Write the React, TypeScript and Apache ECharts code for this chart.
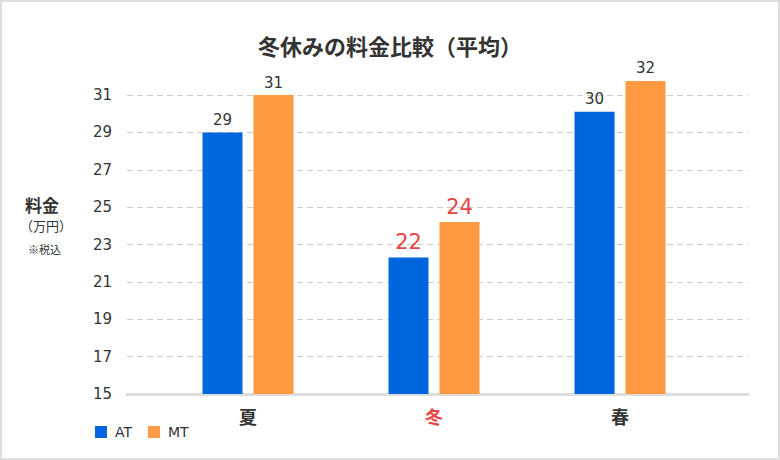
import React, { useEffect, useRef } from "react";
import * as echarts from "echarts";

const title = "冬休みの料金比較（平均）";
const categories = ["夏", "冬", "春"];
const seriesNames = ["AT", "MT"];
const atValues = [29.0, 22.3, 30.1];
const mtValues = [31.0, 24.2, 31.75];
const yMin = 15;
const yMax = 31;
const yInterval = 2;
const barAxisMax = 33;
const highlightIndex = 1;

const FONT = '"DejaVu Sans", "Noto Sans CJK JP", sans-serif';
const JFONT = '"Noto Sans CJK JP", sans-serif';
const BLUE = "#0066dd";
const ORANGE = "#ff9a42";
const RED = "#e84545";

const GRID_TOP = 95;
const GRID_BOTTOM = 66;
const PX_PER_UNIT = (460 - GRID_TOP - GRID_BOTTOM) / (yMax - yMin);

function makeData(vals: number[]) {
  return vals.map((v, i) =>
    i === highlightIndex
      ? { value: v, label: { color: RED, fontSize: 21 } }
      : { value: v }
  );
}

export default function App() {
  const ref = useRef<HTMLDivElement>(null);
  useEffect(() => {
    document.body.style.margin = "0";
    const chart = echarts.init(ref.current!, null, { renderer: "svg" });
    const labelCommon = {
      show: true,
      position: "top" as const,
      distance: 5,
      color: "#333",
      fontSize: 15,
      fontFamily: FONT,
      formatter: (p: any) => String(Math.round(p.value)),
    };
    chart.setOption({
      animation: false,
      backgroundColor: "#fff",
      title: {
        text: title,
        left: "center",
        top: 29,
        textStyle: { fontSize: 22, fontWeight: "bold", color: "#333", fontFamily: JFONT },
      },
      legend: {
        left: 90,
        top: 420,
        icon: "rect",
        itemWidth: 12,
        itemHeight: 12,
        itemGap: 16,
        textStyle: { fontSize: 14, color: "#333", fontFamily: FONT, padding: [0, 0, 0, 3] },
        data: seriesNames,
      },
      grid: [
        { left: 127, right: 32, top: GRID_TOP, bottom: GRID_BOTTOM },
        {
          left: 155,
          right: 67,
          top: GRID_TOP - (barAxisMax - yMax) * PX_PER_UNIT,
          bottom: GRID_BOTTOM,
        },
      ],
      xAxis: [
        {
          type: "category",
          gridIndex: 0,
          data: [""],
          axisLine: { show: true, lineStyle: { color: "#dddddd", width: 3 } },
          axisTick: { show: false },
          axisLabel: { show: false },
        },
        {
          type: "category",
          gridIndex: 1,
          data: categories,
          axisLine: { show: false },
          axisTick: { show: false },
          axisLabel: {
            margin: 13,
            formatter: (v: string) =>
              categories.indexOf(v) === highlightIndex ? `{r|${v}}` : `{n|${v}}`,
            rich: {
              n: { color: "#333", fontSize: 18, fontWeight: "bold", fontFamily: JFONT },
              r: { color: RED, fontSize: 18, fontWeight: "bold", fontFamily: JFONT },
            },
          },
        },
      ],
      yAxis: [
        {
          type: "value",
          gridIndex: 0,
          min: yMin,
          max: yMax,
          interval: yInterval,
          axisLine: { show: false },
          axisTick: { show: false },
          axisLabel: { margin: 15, color: "#333", fontSize: 15, fontFamily: FONT },
          splitLine: { lineStyle: { color: "#cccccc", type: [6, 4], width: 1 } },
        },
        {
          type: "value",
          gridIndex: 1,
          min: yMin,
          max: barAxisMax,
          show: false,
          splitLine: { show: false },
        },
      ],
      graphic: [
        {
          type: "rect",
          shape: { x: 1, y: 1, width: 778, height: 458 },
          style: { fill: "none", stroke: "#dddddd", lineWidth: 2 },
          z: 100,
        },
        {
          type: "text",
          left: 25,
          top: 196,
          style: { text: "料金", fill: "#333", font: `bold 17px ${JFONT}` },
        },
        {
          type: "text",
          left: 20,
          top: 219,
          style: { text: "（万円）", fill: "#333", font: `13px ${JFONT}` },
        },
        {
          type: "text",
          left: 28,
          top: 243,
          style: { text: "※税込", fill: "#333", font: `11px ${JFONT}` },
        },
      ],
      series: [
        {
          name: seriesNames[0],
          type: "bar",
          xAxisIndex: 1,
          yAxisIndex: 1,
          barWidth: 40,
          barGap: "27.5%",
          itemStyle: { color: BLUE },
          label: labelCommon,
          data: makeData(atValues),
        },
        {
          name: seriesNames[1],
          type: "bar",
          xAxisIndex: 1,
          yAxisIndex: 1,
          barWidth: 40,
          barGap: "27.5%",
          itemStyle: { color: ORANGE },
          label: labelCommon,
          data: makeData(mtValues),
        },
      ],
    });
    return () => chart.dispose();
  }, []);
  return <div ref={ref} style={{ width: 780, height: 460 }} />;
}
